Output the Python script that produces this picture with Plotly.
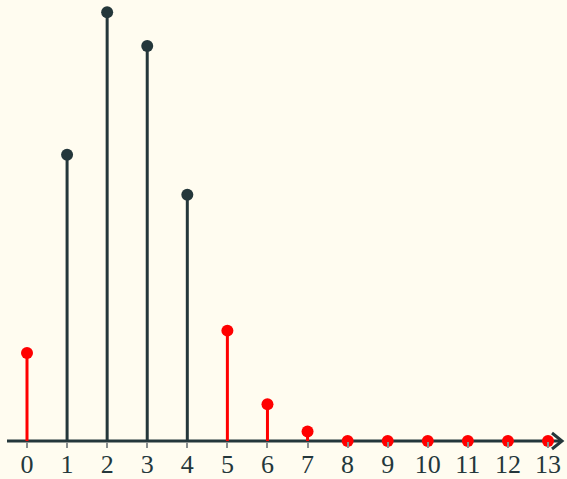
import plotly.graph_objects as go

ks = list(range(14))
probs = [0.055, 0.179, 0.268, 0.247, 0.154, 0.069, 0.023, 0.006, 0, 0, 0, 0, 0, 0]
highlight = [0, 1, 1, 1, 1, 0, 0, 0, 0, 0, 0, 0, 0, 0]  # 1 = dark (inside), 0 = red
tick_labels = [str(k) for k in ks]

DARK = "#24373b"
RED = "#ff0000"
BG = "#fffcf0"

fig = go.Figure()

for flag, color in [(0, RED), (1, DARK)]:
    xs, ys = [], []
    mx, my = [], []
    for k, p, h in zip(ks, probs, highlight):
        if h == flag:
            if p > 0:
                xs += [k, k, None]
                ys += [0, p, None]
            mx.append(k)
            my.append(p)
    fig.add_trace(go.Scatter(x=xs, y=ys, mode="lines",
                             line=dict(color=color, width=3),
                             hoverinfo="skip", showlegend=False, cliponaxis=False))
    fig.add_trace(go.Scatter(x=mx, y=my, mode="markers",
                             marker=dict(color=color, size=12),
                             showlegend=False, cliponaxis=False))

W, H = 567, 479
B = 38
px_per = (548 - 27) / 13.0
x0 = -27 / px_per
x1 = 13 + (W - 548) / px_per
ph = float(H - B)

# axis line and arrowhead (paper coordinates)
fig.add_shape(type="line", xref="paper", yref="paper",
              x0=7 / W, x1=561 / W, y0=0, y1=0,
              line=dict(color=DARK, width=3), layer="below")
fig.add_shape(type="path", xref="paper", yref="paper",
              path=f"M {552/W} {8/ph} L {562/W} 0 L {552/W} {-8/ph}",
              line=dict(color=DARK, width=3), layer="below")

fig.update_layout(
    width=W, height=H,
    margin=dict(l=0, r=0, t=0, b=B),
    paper_bgcolor=BG, plot_bgcolor=BG,
    xaxis=dict(range=[x0, x1], tickmode="array", tickvals=ks, ticktext=tick_labels,
               ticks="outside", ticklen=6, tickwidth=2, tickcolor="#8a8f8f",
               ticklabelstandoff=-6, automargin=False,
               showgrid=False, zeroline=False, showline=False,
               tickfont=dict(family="Liberation Serif", size=26, color=DARK)),
    yaxis=dict(range=[0, 0.268 * ph / 428.7], visible=False, automargin=False,
               showgrid=False, zeroline=False),
)

fig.write_html("out.html", config={"displayModeBar": False},
               post_script="document.body.style.margin='0';document.body.style.background='%s';" % BG)
